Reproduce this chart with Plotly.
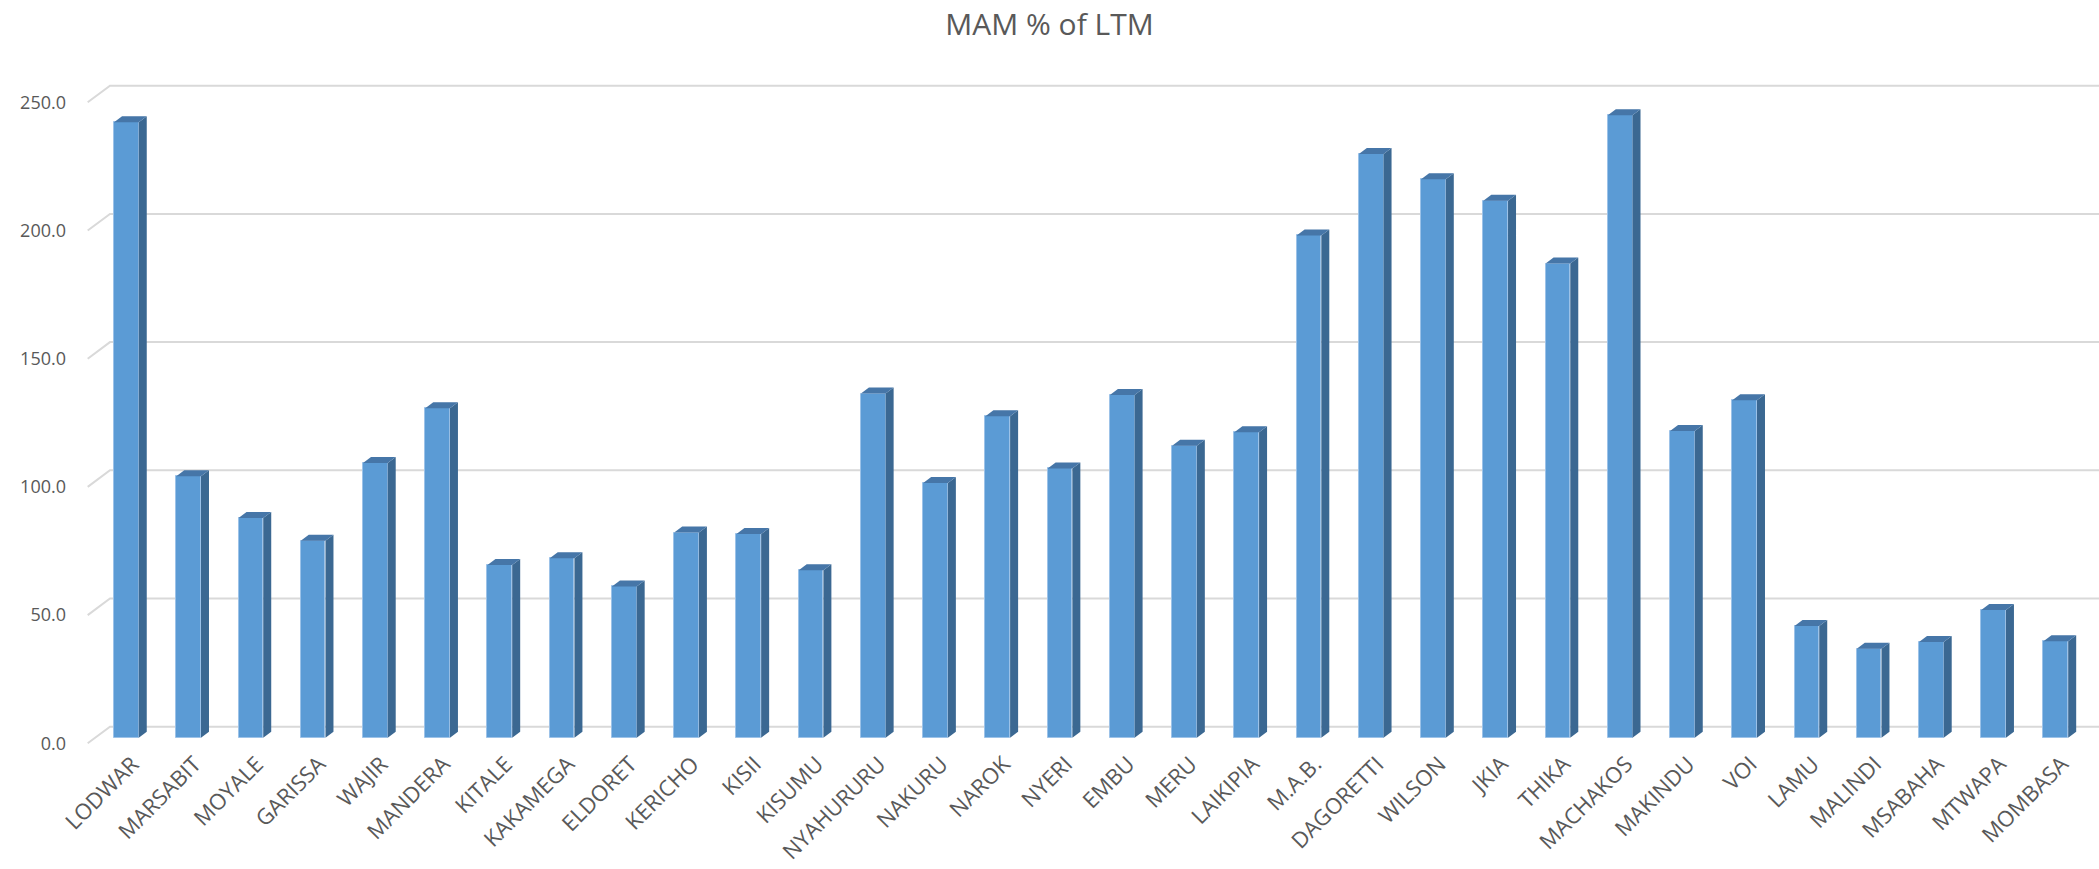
import plotly.graph_objects as go

# ---------------- data ----------------
stations = ["LODWAR", "MARSABIT", "MOYALE", "GARISSA", "WAJIR", "MANDERA", "KITALE",
            "KAKAMEGA", "ELDORET", "KERICHO", "KISII", "KISUMU", "NYAHURURU", "NAKURU",
            "NAROK", "NYERI", "EMBU", "MERU", "LAIKIPIA", "M.A.B.", "DAGORETTI", "WILSON",
            "JKIA", "THIKA", "MACHAKOS", "MAKINDU", "VOI", "LAMU", "MALINDI", "MSABAHA",
            "MTWAPA", "MOMBASA"]
mam_pct_ltm = [240.0, 102.0, 85.7, 76.8, 107.1, 128.5, 67.4,
               70.0, 59.0, 80.0, 79.4, 65.3, 134.2, 99.3,
               125.4, 105.0, 133.7, 113.9, 119.1, 195.9, 227.7, 217.8,
               209.4, 184.9, 242.8, 119.6, 131.6, 43.6, 34.7, 37.3,
               49.8, 37.6]
y_ticks = [0, 50, 100, 150, 200, 250]
y_tick_text = ["0.0", "50.0", "100.0", "150.0", "200.0", "250.0"]

# ---------------- 3D geometry (axis units) ----------------
W, H = 2099, 869
PX_CAT = 62.24           # pixels per category
X0_PX = 126.4            # pixel of category 0 (front face centre)
PX_UNIT = 2.564          # pixels per value unit
Y0_PX = 737.7            # pixel of bar-plane zero
PL_L, PL_R, PL_T, PL_B = 86, 2099, 60, 745

xr = [(PL_L - X0_PX) / PX_CAT, (PL_R - X0_PX) / PX_CAT]
yr = [(Y0_PX - PL_B) / PX_UNIT, (Y0_PX - PL_T) / PX_UNIT]

front_off = (Y0_PX - 743.3) / PX_UNIT     # front plane offset (value units)
back_off = (Y0_PX - 726.7) / PX_UNIT      # back wall offset
front_left = (87.7 - X0_PX) / PX_CAT
back_left = (110.0 - X0_PX) / PX_CAT
bar_w = 24.7 / PX_CAT
ddx = 8.0 / PX_CAT
ddy = 6.0 / PX_UNIT

FRONT = "#5B9BD5"
SIDE = "#3B6892"
TOP = "#4676A8"
GRID = "#D9D9D9"
TXT = "#595959"
FONT = "Open Sans, Noto Sans, DejaVu Sans, sans-serif"

fig = go.Figure()

# back wall gridlines with the left-side diagonal
shapes = []
for v in y_ticks:
    path = (f"M {front_left},{v + front_off} L {back_left},{v + back_off} "
            f"L {xr[1] + 1},{v + back_off}")
    shapes.append(dict(type="path", path=path, xref="x", yref="y", layer="below",
                       line=dict(color=GRID, width=2)))

xs = list(range(len(stations)))

# front faces
fig.add_trace(go.Bar(x=xs, y=mam_pct_ltm, width=bar_w,
                     marker=dict(color=FRONT, line=dict(color="#9CC2E8", width=1)),
                     hoverinfo="skip", showlegend=False))

# side faces
sx, sy = [], []
for i, v in zip(xs, mam_pct_ltm):
    r = i + bar_w / 2
    sx += [r, r + ddx, r + ddx, r, r, None]
    sy += [0, ddy, v + ddy, v, 0, None]
fig.add_trace(go.Scatter(x=sx, y=sy, mode="lines", fill="toself", fillcolor=SIDE,
                         line=dict(width=0, color=SIDE), hoverinfo="skip", showlegend=False))

# top faces
tx, ty = [], []
for i, v in zip(xs, mam_pct_ltm):
    l, r = i - bar_w / 2, i + bar_w / 2
    tx += [l, r, r + ddx, l + ddx, l, None]
    ty += [v, v, v + ddy, v + ddy, v, None]
fig.add_trace(go.Scatter(x=tx, y=ty, mode="lines", fill="toself", fillcolor=TOP,
                         line=dict(width=0, color=TOP), hoverinfo="skip", showlegend=False))

fig.update_layout(
    width=W, height=H,
    margin=dict(l=PL_L, r=W - PL_R, t=PL_T, b=H - PL_B),
    paper_bgcolor="white", plot_bgcolor="white",
    shapes=shapes,
    title=dict(text="MAM % of LTM", x=0.5, xref="container", xanchor="center",
               y=1 - 24 / H, yref="container", yanchor="middle",
               font=dict(family=FONT, size=30, color=TXT)),
    xaxis=dict(range=xr, tickmode="array", tickvals=xs, ticktext=stations,
               tickangle=-45, showgrid=False, zeroline=False, showline=False,
               ticks="", ticklabelstandoff=1, ticklabelshift=6,
               tickfont=dict(family=FONT, size=22, color=TXT)),
    yaxis=dict(range=yr, tickmode="array",
               tickvals=[v + front_off for v in y_ticks], ticktext=y_tick_text,
               showgrid=False, zeroline=False, showline=False, ticks="",
               ticklabelstandoff=19,
               tickfont=dict(family=FONT, size=18, color=TXT)),
    bargap=0, showlegend=False,
)

fig.write_html("out.html", config={"displayModeBar": False},
               post_script="document.body.style.margin='0';")
